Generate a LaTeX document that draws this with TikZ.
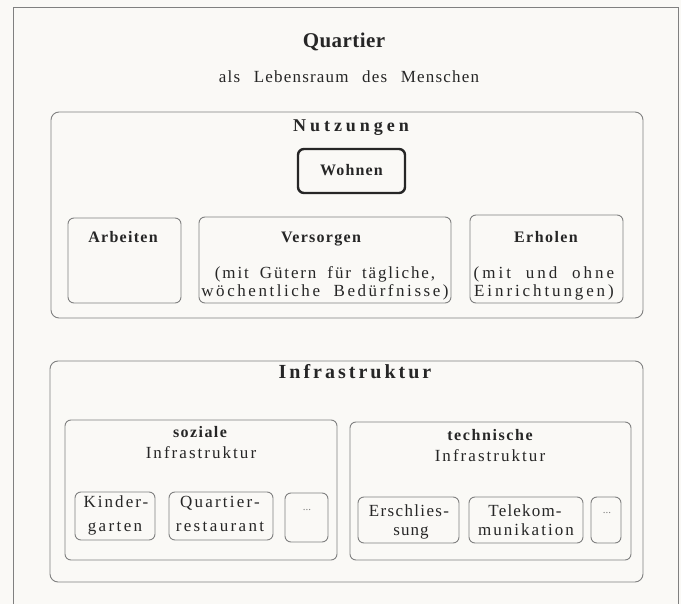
\documentclass[tikz,border=0pt]{standalone}
\usepackage{fontspec}
\setmainfont{Liberation Serif}
\definecolor{bgc}{RGB}{250,249,246}
\definecolor{lnc}{RGB}{128,128,128}
\definecolor{ink}{RGB}{38,38,38}
\newcommand\tsp[3]{\fontsize{#1}{#1}\selectfont\addfontfeature{LetterSpace=#2}\spaceskip=#3\fontdimen2\font\relax}
\begin{document}
\begin{tikzpicture}[x=1pt,y=-1pt,
  box/.style={draw=lnc, line width=0.9pt, rounded corners=6pt, inner sep=0pt},
  mainbox/.style={box, rounded corners=8pt},
  heavybox/.style={draw=ink, line width=2.4pt, rounded corners=6pt, inner sep=0pt},
  lbl/.style={anchor=base, inner sep=0pt, text=ink},
  dotlbl/.style={anchor=base, inner sep=0pt, text=lnc}]
\useasboundingbox (0,0) rectangle (681,604);
\fill[bgc] (0,0) rectangle (681,604);
% outer frame (open at bottom)
\coordinate (fa) at (13,606);
\coordinate (fb) at (13,7);
\coordinate (fc) at (678,7);
\coordinate (fd) at (678,606);
\draw[lnc, line width=0.9pt] (fa) -- (fb) -- (fc) -- (fd);

% titles
\node[lbl] (quartier) at (344,48) {\tsp{21}{2}{1}\bfseries Quartier};
\node[lbl] (lebensraum) at (349,83) {\tsp{17}{7}{2.5}als Lebensraum des Menschen};

% Nutzungen
\node[mainbox, minimum width=592pt, minimum height=206pt] (nutz) at (347,215) {};
\node[lbl] (nutztitle) at (351,132) {\tsp{18}{22}{1}\bfseries Nutzungen};
\node[heavybox, minimum width=107pt, minimum height=44pt] (wohn) at (351.5,171) {};
\node[lbl] (wohntxt) at (351.5,176) {\tsp{16}{7}{1}\bfseries Wohnen};

\node[box, minimum width=113pt, minimum height=85pt] (arb) at (124.5,260.5) {};
\node[lbl] (arbtxt) at (123,243) {\tsp{16}{8}{1}\bfseries Arbeiten};

\node[box, minimum width=252pt, minimum height=86pt] (vers) at (325,260) {};
\node[lbl] (verstxt) at (321,243) {\tsp{16}{8}{1}\bfseries Versorgen};
\node[lbl] (versa) at (325,279) {\tsp{17}{11}{1.8}(mit Gütern für tägliche,};
\node[lbl] (versb) at (325,297) {\tsp{17}{15}{2}wöchentliche Bedürfnisse)};

\node[box, minimum width=153pt, minimum height=88pt] (erh) at (546.5,259) {};
\node[lbl] (erhtxt) at (546,243) {\tsp{16}{9}{1}\bfseries Erholen};
\node[lbl] (erha) at (544,279) {\tsp{17}{18}{2}(mit und ohne};
\node[lbl] (erhb) at (544,297) {\tsp{17}{17}{1}Einrichtungen)};

% Infrastruktur
\node[mainbox, minimum width=593pt, minimum height=221pt] (infra) at (346.5,471.5) {};
\node[lbl] (infratitle) at (355,379) {\tsp{20}{15}{1}\bfseries Infrastruktur};

\node[box, minimum width=272pt, minimum height=140pt] (soz) at (201,490) {};
\node[lbl] (soztxt) at (200,438) {\tsp{16}{9}{1}\bfseries soziale};
\node[lbl] (sozinf) at (201,458) {\tsp{17}{12}{1}Infrastruktur};

\node[box, minimum width=281pt, minimum height=138pt] (tech) at (490.5,491) {};
\node[lbl] (techtxt) at (490,440) {\tsp{16}{10}{1}\bfseries technische};
\node[lbl] (techinf) at (490,461) {\tsp{17}{12}{1}Infrastruktur};

\node[box, minimum width=80pt, minimum height=48pt] (kind) at (115,516) {};
\node[lbl] (kinda) at (116,507) {\tsp{17}{12}{1}Kinder-};
\node[lbl] (kindb) at (115,531) {\tsp{17}{14}{1}garten};

\node[box, minimum width=104pt, minimum height=48pt] (quart) at (221,516) {};
\node[lbl] (quarta) at (220,507) {\tsp{17}{13}{1}Quartier-};
\node[lbl] (quartb) at (220,531) {\tsp{17}{14}{1}restaurant};

\node[box, minimum width=43pt, minimum height=49pt] (sdots) at (306.5,517.5) {};
\node[dotlbl] (sdotstxt) at (307,510) {\fontsize{11}{11}\selectfont ...};

\node[box, minimum width=101pt, minimum height=46pt] (ersch) at (408.5,520) {};
\node[lbl] (erscha) at (409,516) {\tsp{17}{8}{1}Erschlies-};
\node[lbl] (erschb) at (411,535) {\tsp{17}{6}{1}sung};

\node[box, minimum width=114pt, minimum height=46pt] (tele) at (526,520) {};
\node[lbl] (telea) at (525,516) {\tsp{17}{7}{1}Telekom-};
\node[lbl] (teleb) at (526,535) {\tsp{17}{12}{1}munikation};

\node[box, minimum width=30pt, minimum height=46pt] (tdots) at (606,520) {};
\node[dotlbl] (tdotstxt) at (607,513) {\fontsize{11}{11}\selectfont ...};
\end{tikzpicture}
\end{document}
